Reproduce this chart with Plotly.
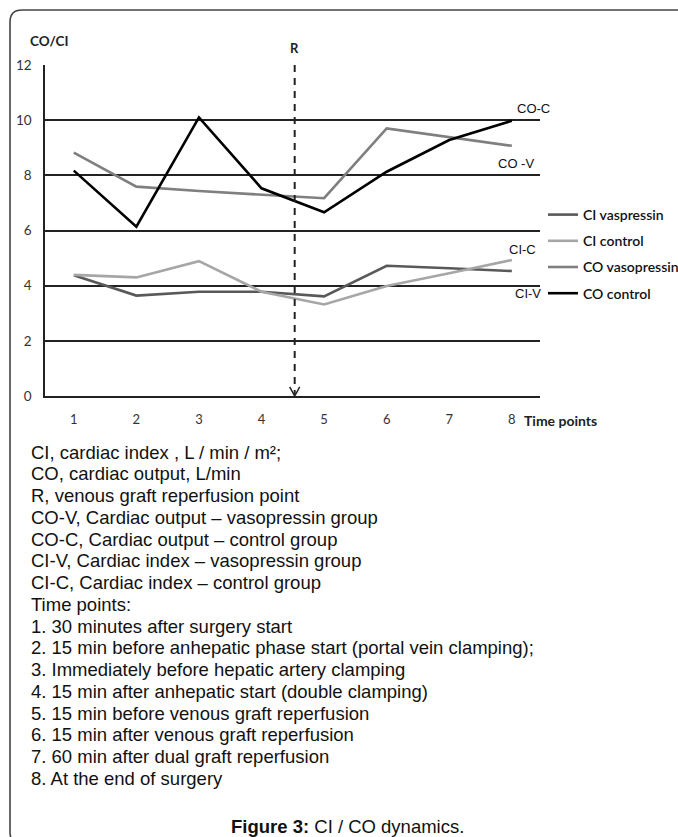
import plotly.graph_objects as go

# ---------------- data ----------------
time_points = [1, 2, 3, 4, 5, 6, 7, 8]
tick_labels = ["1", "2", "3", "4", "5", "6", "7", "8"]
y_ticks = [0, 2, 4, 6, 8, 10, 12]

ci_vasopressin = [4.38, 3.64, 3.78, 3.78, 3.61, 4.72, 4.63, 4.53]
ci_control = [4.39, 4.30, 4.89, 3.78, 3.32, 3.99, 4.45, 4.93]
co_vasopressin = [8.82, 7.59, 7.43, 7.29, 7.17, 9.70, 9.38, 9.07]
co_control = [8.17, 6.14, 10.10, 7.53, 6.66, 8.13, 9.28, 9.98]

series_names = ["CI vaspressin", "CI control", "CO vasopressin", "CO control"]
series_values = [ci_vasopressin, ci_control, co_vasopressin, co_control]
series_colors = ["#595959", "#a6a6a6", "#7f7f7f", "#000000"]

reperfusion_x = 4.53  # R marker position on the time axis

line_labels = ["CO-C", "CO -V", "CI-C", "CI-V"]

notes = [
    "CI, cardiac index , L / min / m²;",
    "CO, cardiac output, L/min",
    "R, venous graft reperfusion point",
    "CO-V, Cardiac output – vasopressin group",
    "CO-C, Cardiac output – control group",
    "CI-V, Cardiac index – vasopressin group",
    "CI-C, Cardiac index – control group",
    "Time points:",
    "1. 30 minutes after surgery start",
    "2. 15 min before anhepatic phase start (portal vein clamping);",
    "3. Immediately before hepatic artery clamping",
    "4. 15 min after anhepatic start (double clamping)",
    "5. 15 min before venous graft reperfusion",
    "6. 15 min after venous graft reperfusion",
    "7. 60 min after dual graft reperfusion",
    "8. At the end of surgery",
]
caption = "<b>Figure 3:</b> CI / CO dynamics."

# ---------------- layout geometry ----------------
W, H = 678, 837
ML, MR, MT, MB = 45, 138, 65, 441
PW, PH = W - ML - MR, H - MT - MB


def px(xp):
    return (xp - ML) / PW


def py(yp):
    return (H - MB - yp) / PH


TEXT_FONT = "Liberation Sans, Arial, sans-serif"
CHART_FONT = "Lato, sans-serif"

fig = go.Figure()

for i, (name, vals, col) in enumerate(zip(series_names, series_values, series_colors)):
    fig.add_trace(go.Scatter(
        x=time_points, y=vals, mode="lines", name=name,
        line=dict(color=col, width=2.6),
        legendgroup=f"g{i}",
        hoverinfo="skip",
    ))

# reperfusion dashed line with open arrow head
fig.add_shape(type="line", xref="x", yref="y",
              x0=reperfusion_x, x1=reperfusion_x, y0=12, y1=0.05,
              line=dict(color="#222", width=2, dash="7px,6px"))
fig.add_shape(type="path", xref="x", yref="y",
              path=f"M {reperfusion_x - 0.08},0.33 L {reperfusion_x},0 L {reperfusion_x + 0.08},0.33",
              line=dict(color="#222", width=1.5))

annotations = []
# R label
annotations.append(dict(x=reperfusion_x, y=py(48), xref="x", yref="paper", text="<b>R</b>",
                        showarrow=False, font=dict(family=CHART_FONT, size=13, color="#222"),
                        xanchor="center", yanchor="middle"))
# y axis title
annotations.append(dict(x=px(28), y=py(41), xref="paper", yref="paper", text="<b>CO/CI</b>",
                        showarrow=False, font=dict(family=CHART_FONT, size=13.5, color="#222"),
                        xanchor="left", yanchor="middle"))
# x axis title
annotations.append(dict(x=px(522), y=py(420), xref="paper", yref="paper", text="<b>Time points</b>",
                        showarrow=False, font=dict(family=CHART_FONT, size=14, color="#222"),
                        xanchor="left", yanchor="middle"))
# line labels
label_pos = [(533, 108), (516, 163), (522, 249), (528, 293)]
for t, (lx, ly) in zip(line_labels, label_pos):
    annotations.append(dict(x=px(lx), y=py(ly), xref="paper", yref="paper", text=t,
                            showarrow=False, font=dict(family=TEXT_FONT, size=13, color="#111"),
                            xanchor="center", yanchor="middle"))
# notes
y0, dy = 452, 21.75
for k, t in enumerate(notes):
    annotations.append(dict(x=px(29), y=py(y0 + k * dy), xref="paper", yref="paper", text=t,
                            showarrow=False, font=dict(family=TEXT_FONT, size=18.5, color="#111"),
                            xanchor="left", yanchor="middle"))
annotations.append(dict(x=px(347), y=py(826), xref="paper", yref="paper", text=caption,
                        showarrow=False, font=dict(family=TEXT_FONT, size=18.5, color="#111"),
                        xanchor="center", yanchor="middle"))

# outer rounded frame
fx0, fy0, fx1, fy1, r = 10, 10, 692, 844, 12


def P(a, b):
    return f"{px(a)},{py(b)}"


frame = (f"M {P(fx0 + r, fy0)} L {P(fx1 - r, fy0)} Q {P(fx1, fy0)} {P(fx1, fy0 + r)} "
         f"L {P(fx1, fy1 - r)} Q {P(fx1, fy1)} {P(fx1 - r, fy1)} L {P(fx0 + r, fy1)} "
         f"Q {P(fx0, fy1)} {P(fx0, fy1 - r)} L {P(fx0, fy0 + r)} Q {P(fx0, fy0)} {P(fx0 + r, fy0)} Z")
fig.add_shape(type="path", xref="paper", yref="paper", path=frame,
              line=dict(color="#444", width=1.6), layer="below")

fig.update_layout(
    width=W, height=H,
    margin=dict(l=ML, r=MR, t=MT, b=MB, autoexpand=False),
    paper_bgcolor="white", plot_bgcolor="white",
    showlegend=True,
    legend=dict(x=px(543), y=py(199), xanchor="left", yanchor="top",
                font=dict(family=CHART_FONT, size=14, color="#111", weight=600),
                itemwidth=30, tracegroupgap=5, bgcolor="rgba(0,0,0,0)"),
    annotations=annotations,
    xaxis=dict(range=[0.54, 8.45], tickmode="array", tickvals=time_points, ticktext=tick_labels,
               showgrid=False, zeroline=False, showline=True, linecolor="#222", linewidth=1.5,
               ticks="", ticklabelstandoff=11,
               tickfont=dict(family=CHART_FONT, size=13, color="#333")),
    yaxis=dict(range=[0, 12], tickmode="array", tickvals=y_ticks,
               showgrid=True, gridcolor="#222", gridwidth=1.5, zeroline=False,
               showline=True, linecolor="#222", linewidth=1.5,
               ticks="", ticklabelstandoff=9,
               tickfont=dict(family=CHART_FONT, size=13.5, color="#333")),
)

fig.write_html("out.html", config={"displayModeBar": False},
               post_script="document.body.style.margin='0';document.body.style.overflow='hidden';")
